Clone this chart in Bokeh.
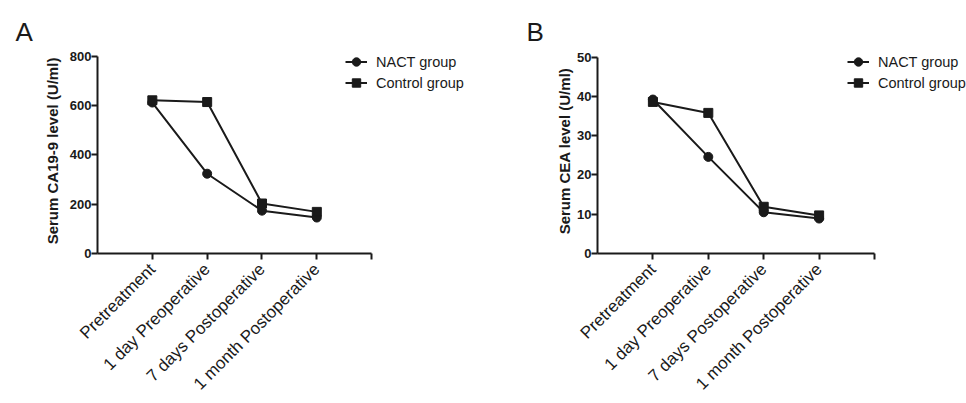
import math
from bokeh.plotting import figure
from bokeh.models import Range1d, FixedTicker, Legend, LegendItem, Title
from bokeh.layouts import row
from bokeh.embed import file_html
from bokeh.resources import INLINE

categories = ["Pretreatment", "1 day Preoperative", "7 days Postoperative", "1 month Postoperative"]
series_names = ["NACT group", "Control group"]

ca199_nact = [613, 324, 174, 146]
ca199_control = [622, 615, 203, 169]
cea_nact = [39.2, 24.6, 10.5, 8.9]
cea_control = [38.6, 35.8, 11.9, 9.7]

ca199_ticks = [0, 200, 400, 600, 800]
cea_ticks = [0, 10, 20, 30, 40, 50]

FONT = "Liberation Sans"
INK = "#1a1a1a"


def make_panel(letter, ylabel, nact, control, yticks, border_left, x_max, y_max,
               legend_x, letter_offset, label_standoff):
    n = len(categories)
    xs = list(range(1, n + 1))
    p = figure(width=483, height=403, output_backend="svg", toolbar_location=None,
               x_range=Range1d(0, x_max), y_range=Range1d(yticks[0], y_max),
               min_border_left=border_left, min_border_right=0,
               min_border_top=48, min_border_bottom=150)
    p.outline_line_color = None
    p.grid.visible = False
    p.background_fill_color = "white"
    p.border_fill_color = "white"

    r1l = p.line(xs, nact, line_color=INK, line_width=2)
    r1m = p.scatter(xs, nact, marker="circle", size=9, fill_color=INK, line_color=INK)
    r2l = p.line(xs, control, line_color=INK, line_width=2)
    r2m = p.scatter(xs, control, marker="square", size=9, fill_color=INK, line_color=INK)

    for ax in (p.xaxis[0], p.yaxis[0]):
        ax.axis_line_width = 2
        ax.axis_line_color = INK
        ax.major_tick_line_width = 2
        ax.major_tick_line_color = INK
        ax.major_tick_out = 6
        ax.major_tick_in = 0
        ax.minor_tick_line_color = None

    xa = p.xaxis[0]
    xa.bounds = (0, n + 1)
    xa.ticker = FixedTicker(ticks=xs + [n + 1])
    overrides = {i + 1: c for i, c in enumerate(categories)}
    overrides[n + 1] = ""
    xa.major_label_overrides = overrides
    xa.major_label_orientation = math.pi / 4
    xa.major_label_text_font = FONT
    xa.major_label_text_font_size = "17px"
    xa.major_label_text_color = INK
    xa.major_label_standoff = 7

    ya = p.yaxis[0]
    ya.bounds = (yticks[0], yticks[-1])
    ya.ticker = FixedTicker(ticks=yticks)
    ya.major_label_text_font = FONT
    ya.major_label_text_font_style = "bold"
    ya.major_label_text_font_size = "13px"
    ya.major_label_text_color = INK
    ya.major_label_standoff = 0
    ya.axis_label = ylabel
    ya.axis_label_text_font = FONT
    ya.axis_label_text_font_style = "bold"
    ya.axis_label_text_font_size = "15px"
    ya.axis_label_text_color = INK
    ya.axis_label_standoff = label_standoff

    legend = Legend(items=[LegendItem(label=series_names[0], renderers=[r1l, r1m]),
                           LegendItem(label=series_names[1], renderers=[r2l, r2m])],
                    location=(legend_x, 160), padding=0, margin=0, spacing=0,
                    glyph_width=22, glyph_height=21, label_height=21, label_standoff=9,
                    label_text_font=FONT, label_text_font_size="14.5px",
                    label_text_color=INK, border_line_color=None,
                    background_fill_alpha=0)
    p.add_layout(legend)

    p.add_layout(Title(text=letter, align="left", offset=letter_offset, standoff=4,
                       text_font=FONT, text_font_size="26px", text_font_style="normal",
                       text_color=INK), "above")
    return p


pa = make_panel("A", "Serum CA19-9 level (U/ml)", ca199_nact, ca199_control, ca199_ticks,
                97, 7.04, 832.4, 248, -82, 6)
pb = make_panel("B", "Serum CEA level (U/ml)", cea_nact, cea_control, cea_ticks,
                114, 6.66, 52.2, 250, -71, 1)

layout = row(pa, pb)
open("out.html", "w").write(file_html(layout, INLINE))
